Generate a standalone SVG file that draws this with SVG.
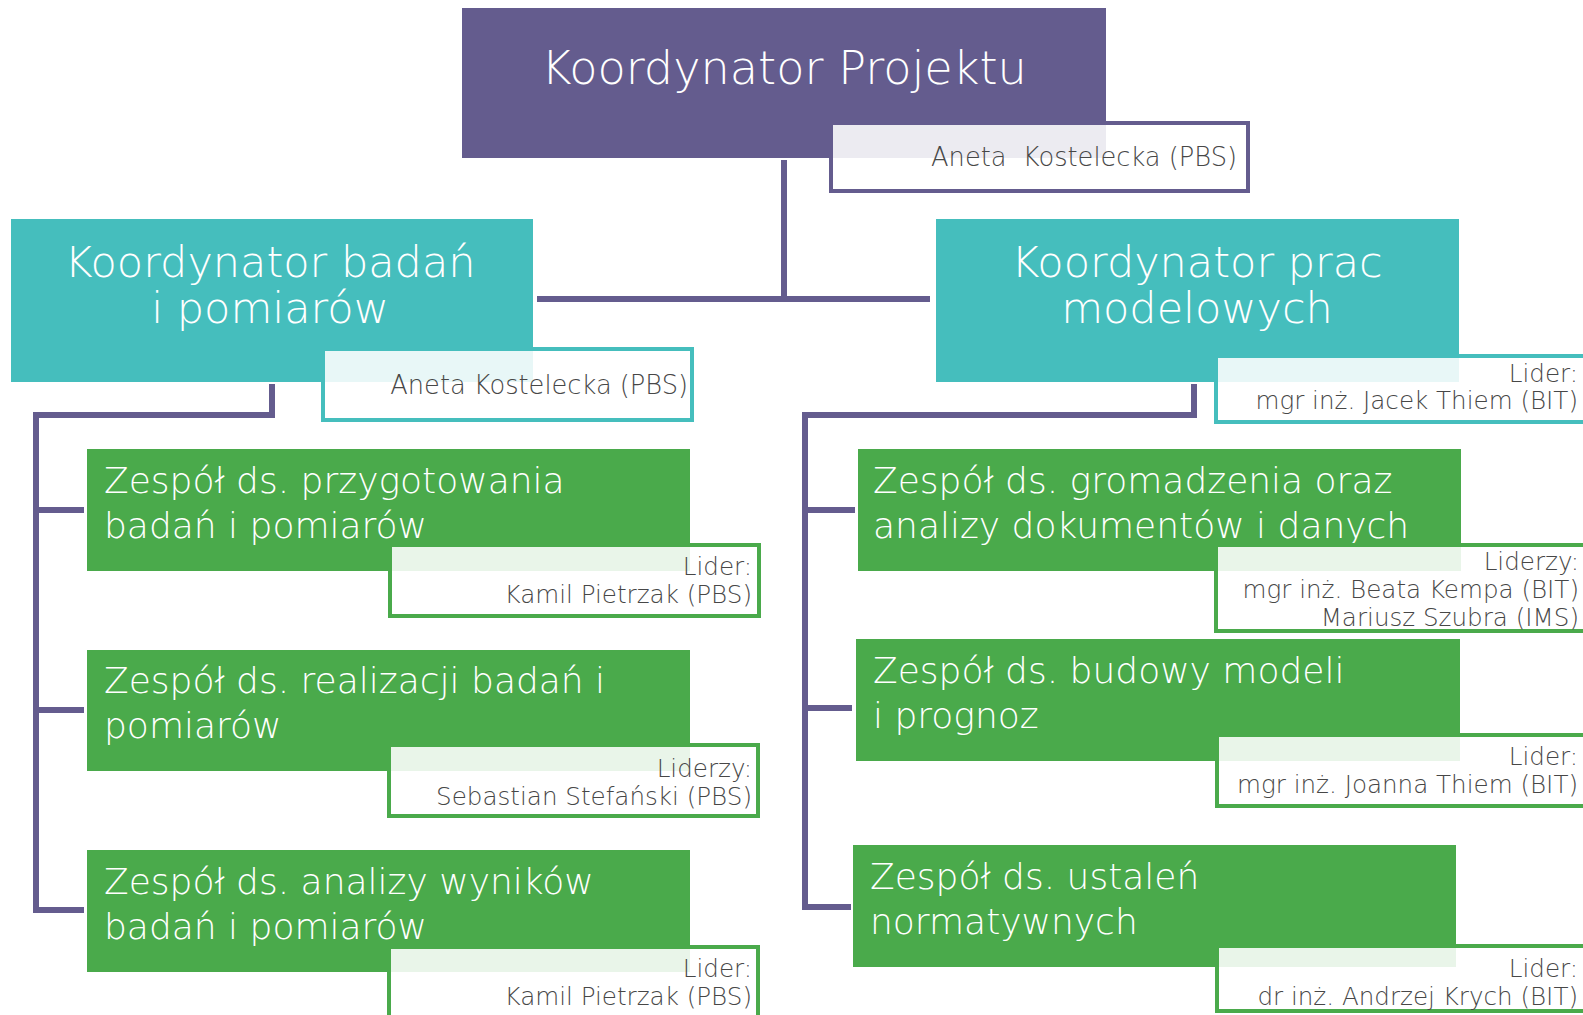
<svg xmlns="http://www.w3.org/2000/svg" width="1583" height="1015" viewBox="0 0 1583 1015">
<style>
text{font-family:"Century Gothic","DejaVu Sans","Liberation Sans",sans-serif;font-weight:200}
.bp{fill:#645c8e}
.bt{fill:#45bebd}
.bg{fill:#4aaa4b}
.sub{fill:#ffffff;fill-opacity:0.88;stroke-width:4}
.sp{stroke:#645c8e}
.st{stroke:#45bebd}
.sg{stroke:#4aaa4b}
.conn{fill:none;stroke:#645c8e;stroke-width:6}
.tw{fill:#ffffff}
.h1{font-size:46.2px;text-anchor:middle}
.h2{font-size:43px;text-anchor:middle}
.h3{font-size:36px}
.ts{fill:#474747;font-size:24.6px;text-anchor:end}
.ta{font-size:25.7px;white-space:pre}
</style>
<rect width="1583" height="1015" fill="#ffffff"/>
<g id="connectors">
<path class="conn" d="M784 160 V299"/>
<path class="conn" d="M537 299 H930"/>
<path class="conn" d="M272 384 V415 H36 V910 H84"/>
<path class="conn" d="M36 510 H84"/>
<path class="conn" d="M36 710 H84"/>
<path class="conn" d="M1194 384 V415 H805 V907 H851"/>
<path class="conn" d="M805 510 H855"/>
<path class="conn" d="M805 708 H852"/>
</g>
<g id="node-koordynator-projektu">
<rect class="bp" x="462" y="8" width="644" height="150"/>
<text class="tw h1" x="784" y="84">Koordynator Projektu</text>
<rect class="sub sp" x="831" y="123" width="417" height="68"/>
<text class="ts ta" x="1237" y="166" xml:space="preserve">Aneta  Kostelecka (PBS)</text>
</g>
<g id="node-koordynator-badan">
<rect class="bt" x="11" y="219" width="522" height="163"/>
<text class="tw h2" x="270" y="277">Koordynator badań</text>
<text class="tw h2" x="270" y="323">i pomiarów</text>
<rect class="sub st" x="323" y="349" width="369" height="71"/>
<text class="ts ta" x="688" y="394">Aneta Kostelecka (PBS)</text>
</g>
<g id="node-koordynator-prac">
<rect class="bt" x="936" y="219" width="523" height="163"/>
<text class="tw h2" x="1197" y="277">Koordynator prac</text>
<text class="tw h2" x="1197" y="323">modelowych</text>
<rect class="sub st" x="1216" y="356" width="400" height="66"/>
<text class="ts" x="1578" y="382">Lider:</text>
<text class="ts" x="1578" y="409">mgr inż. Jacek Thiem (BIT)</text>
</g>
<g id="node-zespol-przygotowania">
<rect class="bg" x="87" y="449" width="603" height="122"/>
<text class="tw h3" x="104" y="493">Zespół ds. przygotowania</text>
<text class="tw h3" x="104" y="538">badań i pomiarów</text>
<rect class="sub sg" x="390" y="545" width="369" height="71"/>
<text class="ts" x="752" y="575">Lider:</text>
<text class="ts" x="752" y="603">Kamil Pietrzak (PBS)</text>
</g>
<g id="node-zespol-realizacji">
<rect class="bg" x="87" y="650" width="603" height="121"/>
<text class="tw h3" x="104" y="693">Zespół ds. realizacji badań i</text>
<text class="tw h3" x="104" y="738">pomiarów</text>
<rect class="sub sg" x="389" y="745" width="369" height="71"/>
<text class="ts" x="752" y="777">Liderzy:</text>
<text class="ts" x="752" y="805">Sebastian Stefański (PBS)</text>
</g>
<g id="node-zespol-analizy-wynikow">
<rect class="bg" x="87" y="850" width="603" height="122"/>
<text class="tw h3" x="104" y="894">Zespół ds. analizy wyników</text>
<text class="tw h3" x="104" y="939">badań i pomiarów</text>
<rect class="sub sg" x="389" y="947" width="369" height="80"/>
<text class="ts" x="752" y="977">Lider:</text>
<text class="ts" x="752" y="1005">Kamil Pietrzak (PBS)</text>
</g>
<g id="node-zespol-gromadzenia">
<rect class="bg" x="858" y="449" width="603" height="122"/>
<text class="tw h3" x="873" y="493">Zespół ds. gromadzenia oraz</text>
<text class="tw h3" x="873" y="538">analizy dokumentów i danych</text>
<rect class="sub sg" x="1216" y="545" width="400" height="86"/>
<text class="ts" x="1579" y="570">Liderzy:</text>
<text class="ts" x="1579" y="598">mgr inż. Beata Kempa (BIT)</text>
<text class="ts" x="1579" y="626">Mariusz Szubra (IMS)</text>
</g>
<g id="node-zespol-budowy">
<rect class="bg" x="856" y="639" width="604" height="122"/>
<text class="tw h3" x="873" y="683">Zespół ds. budowy modeli</text>
<text class="tw h3" x="873" y="728">i prognoz</text>
<rect class="sub sg" x="1217" y="735" width="400" height="71"/>
<text class="ts" x="1578" y="765">Lider:</text>
<text class="ts" x="1578" y="793">mgr inż. Joanna Thiem (BIT)</text>
</g>
<g id="node-zespol-ustalen">
<rect class="bg" x="853" y="845" width="603" height="122"/>
<text class="tw h3" x="870" y="889">Zespół ds. ustaleń</text>
<text class="tw h3" x="870" y="934">normatywnych</text>
<rect class="sub sg" x="1217" y="946" width="400" height="65"/>
<text class="ts" x="1578" y="977">Lider:</text>
<text class="ts" x="1578" y="1005">dr inż. Andrzej Krych (BIT)</text>
</g>
</svg>
